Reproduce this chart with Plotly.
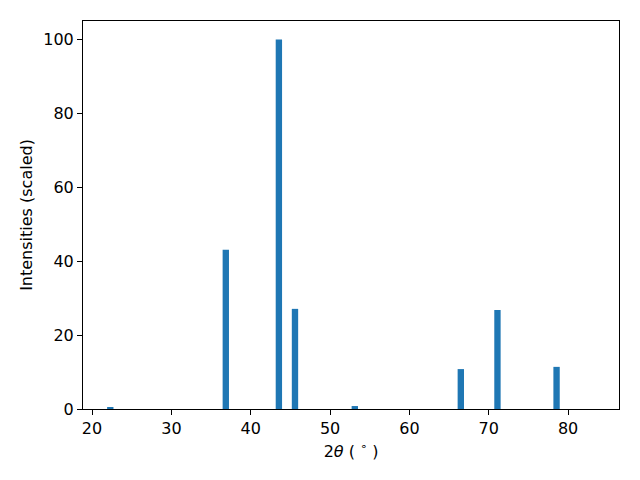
import plotly.graph_objects as go

two_theta = [22.3, 36.86, 43.55, 45.58, 53.12, 66.48, 71.1, 78.55]
intensity = [0.3, 43.1, 100.0, 27.1, 0.8, 10.8, 26.8, 11.4]

fig = go.Figure()
fig.add_trace(go.Bar(x=two_theta, y=intensity, width=0.8,
                     marker=dict(color="#1f77b4", line=dict(width=0))))

font = dict(family="DejaVu Sans", size=16, color="black")
fig.update_layout(
    width=640, height=480,
    margin=dict(l=83, r=21, t=21, b=71, autoexpand=False),
    paper_bgcolor="white", plot_bgcolor="white",
    font=font, showlegend=False,
    xaxis=dict(range=[18.86, 86.42], tickvals=[20, 30, 40, 50, 60, 70, 80],
               ticks="outside", ticklen=5, tickwidth=1, tickcolor="black",
               showline=True, linecolor="black", linewidth=1, mirror=True,
               showgrid=False, zeroline=False, automargin=False,
               title=dict(text="2<i>θ</i> ( <sup>∘</sup> )", standoff=8, font=font)),
    yaxis=dict(range=[0, 105], tickvals=[0, 20, 40, 60, 80, 100],
               ticks="outside", ticklen=5, tickwidth=1, tickcolor="black",
               showline=True, linecolor="black", linewidth=1, mirror=True,
               showgrid=False, zeroline=False, automargin=False,
               title=dict(text="Intensities (scaled)", standoff=6, font=font)),
)
fig.write_html("out.html", config={"displayModeBar": False},
               post_script="document.body.style.margin='0';document.body.style.overflow='hidden';")
